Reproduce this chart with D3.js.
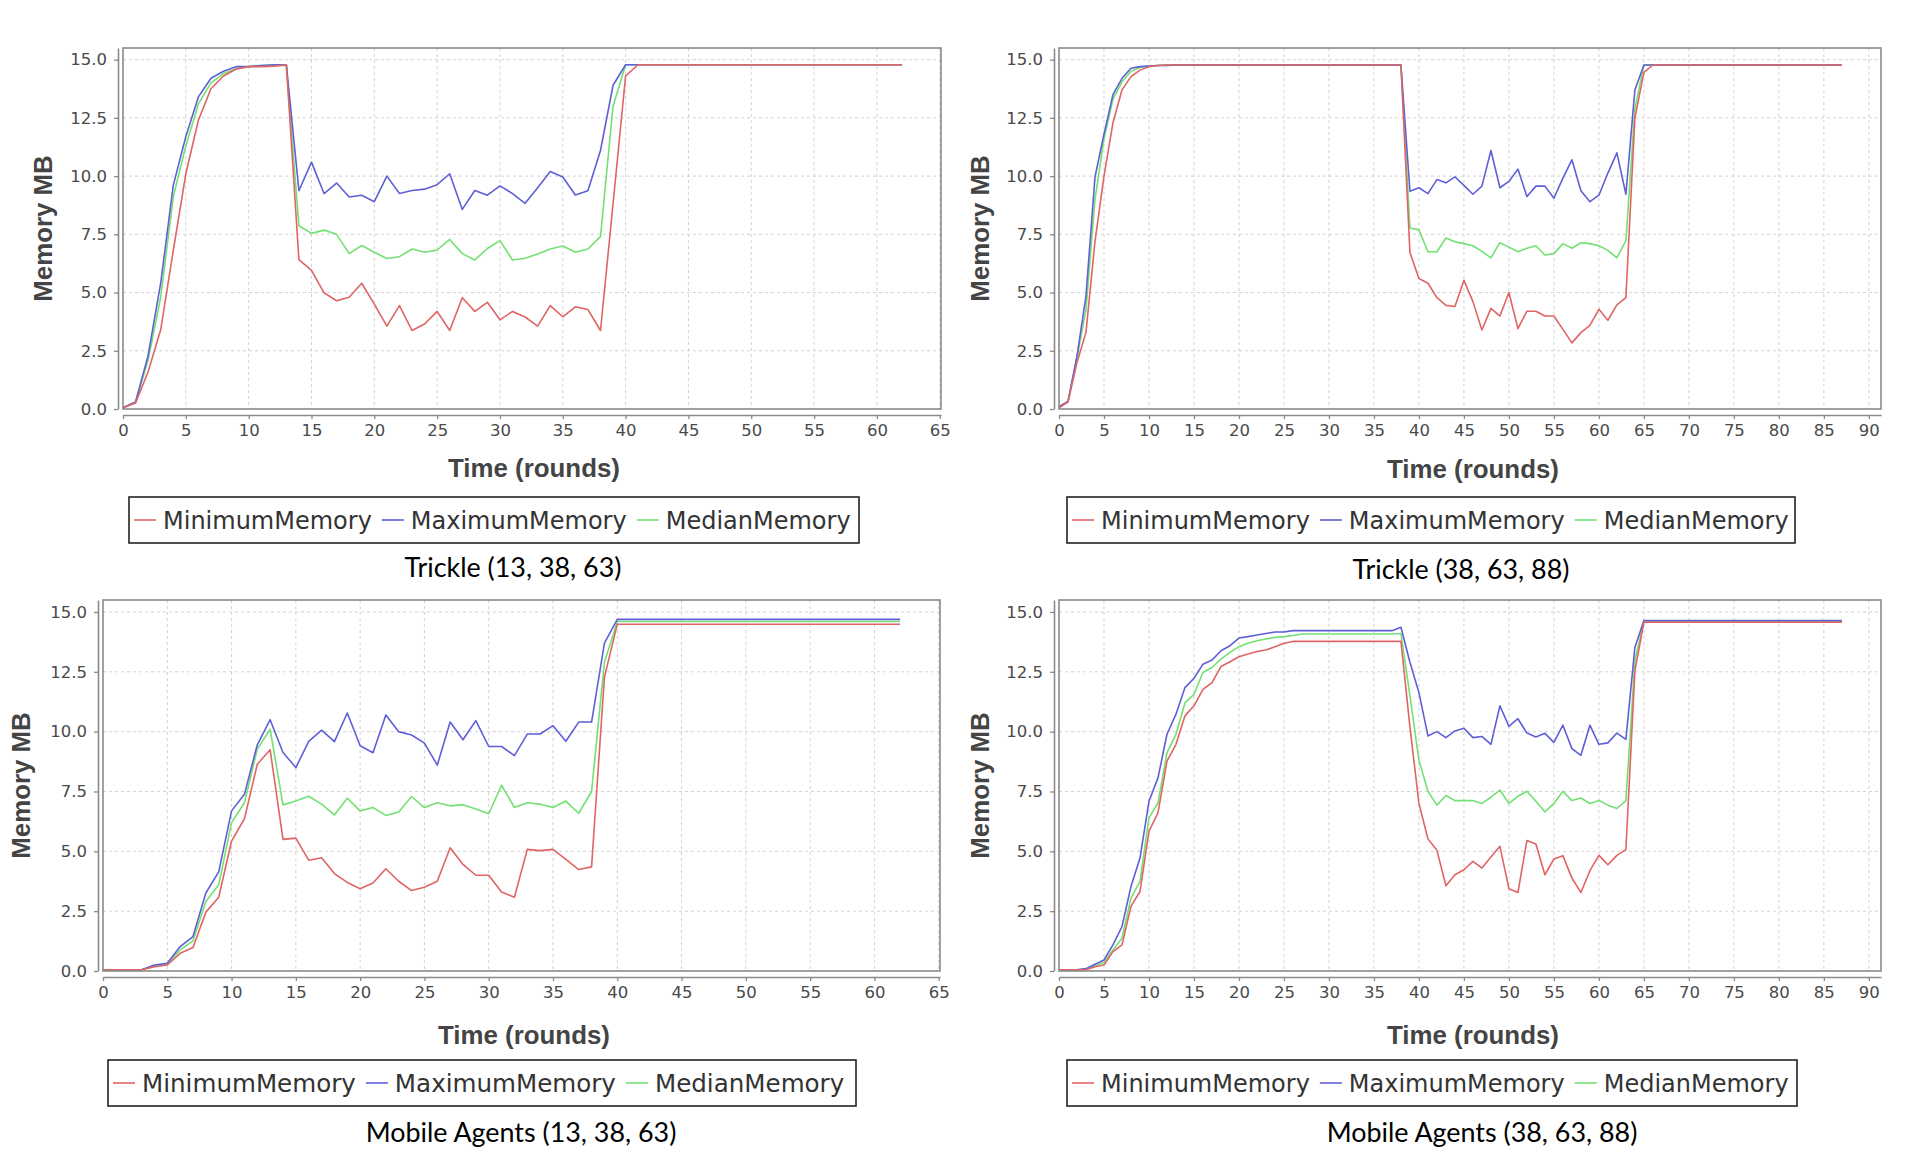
<!DOCTYPE html>
<html>
<head>
<meta charset="utf-8">
<script src="https://cdnjs.cloudflare.com/ajax/libs/d3/7.8.5/d3.min.js"></script>
<style>
  body { margin: 0; background: #fff; }
  svg { display: block; }
</style>
</head>
<body>
<svg id="chart" width="1923" height="1171"></svg>
<script>
'use strict';

// ---- data (index = round) ----
var seriesNames = ['MinimumMemory', 'MaximumMemory', 'MedianMemory'];
var yTickValues = [0, 2.5, 5, 7.5, 10, 12.5, 15];
var xTicks65 = [0, 5, 10, 15, 20, 25, 30, 35, 40, 45, 50, 55, 60, 65];
var xTicks90 = [0, 5, 10, 15, 20, 25, 30, 35, 40, 45, 50, 55, 60, 65, 70, 75, 80, 85, 90];
var captions = ['Trickle (13, 38, 63)', 'Trickle (38, 63, 88)', 'Mobile Agents (13, 38, 63)', 'Mobile Agents (38, 63, 88)'];
var axisTitleX = 'Time (rounds)';
var axisTitleY = 'Memory MB';

var trickleAMin = [0.05, 0.26, 1.6, 3.4, 6.8, 10.1, 12.4, 13.75, 14.3, 14.6, 14.7, 14.7, 14.72, 14.78,
  6.41, 5.95, 4.99, 4.65, 4.8, 5.4, 4.5, 3.56, 4.44, 3.37, 3.65, 4.19, 3.37, 4.78, 4.19, 4.58, 3.83, 4.19, 3.95, 3.56, 4.44, 3.96, 4.39, 4.27, 3.37, 8.8, 14.3,
  14.78, 14.78, 14.78, 14.78, 14.78, 14.78, 14.78, 14.78, 14.78, 14.78, 14.78, 14.78, 14.78, 14.78, 14.78, 14.78, 14.78, 14.78, 14.78, 14.78, 14.78, 14.78];
var trickleAMax = [0.05, 0.3, 2.3, 5.4, 9.6, 11.7, 13.4, 14.2, 14.5, 14.7, 14.7, 14.75, 14.78, 14.78,
  9.37, 10.6, 9.25, 9.7, 9.1, 9.18, 8.9, 10.0, 9.25, 9.38, 9.44, 9.63, 10.1, 8.57, 9.38, 9.18, 9.58, 9.25, 8.83, 9.5, 10.2, 9.96, 9.19, 9.37, 11.1, 13.9, 14.78,
  14.78, 14.78, 14.78, 14.78, 14.78, 14.78, 14.78, 14.78, 14.78, 14.78, 14.78, 14.78, 14.78, 14.78, 14.78, 14.78, 14.78, 14.78, 14.78, 14.78, 14.78, 14.78];
var trickleAMed = [0.05, 0.3, 2.1, 4.8, 9.1, 11.3, 13.1, 14.0, 14.4, 14.6, 14.7, 14.75, 14.75, 14.75,
  7.87, 7.54, 7.68, 7.5, 6.67, 7.02, 6.73, 6.46, 6.54, 6.87, 6.73, 6.82, 7.28, 6.67, 6.4, 6.89, 7.23, 6.4, 6.47, 6.66, 6.87, 7.0, 6.73, 6.87, 7.4, 13.0, 14.78,
  14.78, 14.78, 14.78, 14.78, 14.78, 14.78, 14.78, 14.78, 14.78, 14.78, 14.78, 14.78, 14.78, 14.78, 14.78, 14.78, 14.78, 14.78, 14.78, 14.78, 14.78, 14.78];

var trickleBMin = [0.05, 0.3, 2.0, 3.3, 7.2, 10.0, 12.3, 13.7, 14.27, 14.55, 14.7, 14.75, 14.77, 14.77,
  14.77, 14.77, 14.77, 14.77, 14.77, 14.77, 14.77, 14.77, 14.77, 14.77, 14.77, 14.77, 14.77, 14.77, 14.77, 14.77, 14.77, 14.77, 14.77, 14.77, 14.77, 14.77, 14.77, 14.77, 14.77,
  6.72, 5.6, 5.4, 4.78, 4.45, 4.4, 5.53, 4.61, 3.39, 4.32, 3.99, 5.0, 3.45, 4.2, 4.2, 3.99, 3.99, 3.42, 2.84, 3.28, 3.59, 4.28, 3.81, 4.47, 4.78, 12.5, 14.45,
  14.77, 14.77, 14.77, 14.77, 14.77, 14.77, 14.77, 14.77, 14.77, 14.77, 14.77, 14.77, 14.77, 14.77, 14.77, 14.77, 14.77, 14.77, 14.77, 14.77, 14.77, 14.77];
var trickleBMax = [0.1, 0.33, 2.27, 4.86, 9.96, 11.8, 13.5, 14.2, 14.63, 14.7, 14.73, 14.75, 14.75, 14.77,
  14.77, 14.77, 14.77, 14.77, 14.77, 14.77, 14.77, 14.77, 14.77, 14.77, 14.77, 14.77, 14.77, 14.77, 14.77, 14.77, 14.77, 14.77, 14.77, 14.77, 14.77, 14.77, 14.77, 14.77, 14.77,
  9.35, 9.5, 9.25, 9.85, 9.71, 9.97, 9.6, 9.22, 9.57, 11.1, 9.5, 9.77, 10.3, 9.12, 9.57, 9.57, 9.05, 9.91, 10.7, 9.37, 8.9, 9.18, 10.13, 11.0, 9.22, 13.7, 14.77,
  14.77, 14.77, 14.77, 14.77, 14.77, 14.77, 14.77, 14.77, 14.77, 14.77, 14.77, 14.77, 14.77, 14.77, 14.77, 14.77, 14.77, 14.77, 14.77, 14.77, 14.77, 14.77];
var trickleBMed = [0.1, 0.33, 2.2, 4.28, 9.0, 11.6, 13.3, 14.05, 14.5, 14.66, 14.73, 14.75, 14.77, 14.77,
  14.77, 14.77, 14.77, 14.77, 14.77, 14.77, 14.77, 14.77, 14.77, 14.77, 14.77, 14.77, 14.77, 14.77, 14.77, 14.77, 14.77, 14.77, 14.77, 14.77, 14.77, 14.77, 14.77, 14.77, 14.77,
  7.77, 7.69, 6.75, 6.75, 7.34, 7.18, 7.1, 7.01, 6.77, 6.49, 7.14, 6.95, 6.75, 6.9, 7.01, 6.61, 6.67, 7.1, 6.9, 7.14, 7.1, 7.01, 6.81, 6.49, 7.23, 12.9, 14.77,
  14.77, 14.77, 14.77, 14.77, 14.77, 14.77, 14.77, 14.77, 14.77, 14.77, 14.77, 14.77, 14.77, 14.77, 14.77, 14.77, 14.77, 14.77, 14.77, 14.77, 14.77, 14.77];

var agentsAMin = [0.05, 0.05, 0.05, 0.05, 0.18, 0.25, 0.74, 0.98, 2.46, 3.08, 5.43, 6.36, 8.64, 9.24,
  5.5, 5.55, 4.63, 4.73, 4.07, 3.7, 3.44, 3.68, 4.27, 3.75, 3.36, 3.5, 3.75, 5.15, 4.45, 4.0, 4.0, 3.3, 3.08, 5.08, 5.03, 5.08, 4.66, 4.24, 4.35, 12.28, 14.49,
  14.49, 14.49, 14.49, 14.49, 14.49, 14.49, 14.49, 14.49, 14.49, 14.49, 14.49, 14.49, 14.49, 14.49, 14.49, 14.49, 14.49, 14.49, 14.49, 14.49, 14.49, 14.49];
var agentsAMax = [0.05, 0.05, 0.05, 0.05, 0.25, 0.32, 1.02, 1.44, 3.26, 4.14, 6.69, 7.38, 9.45, 10.5,
  9.13, 8.5, 9.59, 10.06, 9.58, 10.78, 9.41, 9.12, 10.7, 10.0, 9.86, 9.52, 8.6, 10.4, 9.66, 10.46, 9.38, 9.38, 9.0, 9.9, 9.9, 10.25, 9.6, 10.4, 10.4, 13.7, 14.69,
  14.69, 14.69, 14.69, 14.69, 14.69, 14.69, 14.69, 14.69, 14.69, 14.69, 14.69, 14.69, 14.69, 14.69, 14.69, 14.69, 14.69, 14.69, 14.69, 14.69, 14.69, 14.69];
var agentsAMed = [0.05, 0.05, 0.05, 0.05, 0.2, 0.3, 0.88, 1.26, 2.9, 3.6, 6.2, 7.03, 9.27, 10.1,
  6.94, 7.1, 7.3, 6.97, 6.52, 7.22, 6.69, 6.83, 6.5, 6.64, 7.29, 6.83, 7.03, 6.9, 6.95, 6.77, 6.57, 7.76, 6.83, 7.03, 6.97, 6.83, 7.1, 6.59, 7.5, 12.9, 14.6,
  14.6, 14.6, 14.6, 14.6, 14.6, 14.6, 14.6, 14.6, 14.6, 14.6, 14.6, 14.6, 14.6, 14.6, 14.6, 14.6, 14.6, 14.6, 14.6, 14.6, 14.6, 14.6];

var agentsBMin = [0.05, 0.05, 0.05, 0.05, 0.18, 0.25, 0.81, 1.09, 2.7, 3.32, 5.84, 6.61, 8.77, 9.47, 10.66, 11.08, 11.77, 12.05, 12.72, 12.92,
  13.13, 13.24, 13.35, 13.41, 13.55, 13.69, 13.77, 13.77, 13.77, 13.77, 13.77, 13.77, 13.77, 13.77, 13.77, 13.77, 13.77, 13.77, 13.77, 10.2, 7.0,
  5.52, 5.04, 3.56, 4.02, 4.23, 4.58, 4.3, 4.76, 5.21, 3.44, 3.28, 5.45, 5.31, 4.02, 4.68, 4.82, 3.88, 3.28, 4.19, 4.83, 4.44, 4.83, 5.07, 12.54, 14.57,
  14.57, 14.57, 14.57, 14.57, 14.57, 14.57, 14.57, 14.57, 14.57, 14.57, 14.57, 14.57, 14.57, 14.57, 14.57, 14.57, 14.57, 14.57, 14.57, 14.57, 14.57, 14.57];
var agentsBMax = [0.05, 0.05, 0.05, 0.1, 0.28, 0.46, 1.09, 1.86, 3.53, 4.72, 7.09, 8.07, 9.89, 10.73, 11.84, 12.23, 12.82, 12.99, 13.38, 13.59,
  13.91, 13.97, 14.04, 14.1, 14.16, 14.16, 14.22, 14.22, 14.22, 14.22, 14.22, 14.22, 14.22, 14.22, 14.22, 14.22, 14.22, 14.22, 14.36, 12.9, 11.63,
  9.82, 10.0, 9.75, 10.03, 10.14, 9.75, 9.8, 9.47, 11.08, 10.22, 10.54, 9.94, 9.78, 9.93, 9.55, 10.27, 9.29, 9.01, 10.27, 9.47, 9.53, 9.94, 9.68, 13.52, 14.64,
  14.64, 14.64, 14.64, 14.64, 14.64, 14.64, 14.64, 14.64, 14.64, 14.64, 14.64, 14.64, 14.64, 14.64, 14.64, 14.64, 14.64, 14.64, 14.64, 14.64, 14.64, 14.64];
var agentsBMed = [0.05, 0.05, 0.05, 0.08, 0.22, 0.36, 0.88, 1.37, 3.04, 3.74, 6.4, 7.02, 9.12, 9.89, 11.2, 11.56, 12.47, 12.68, 13.03, 13.31,
  13.55, 13.69, 13.8, 13.87, 13.94, 13.97, 14.02, 14.08, 14.08, 14.08, 14.08, 14.08, 14.08, 14.08, 14.08, 14.08, 14.08, 14.08, 14.1, 11.5, 8.8,
  7.51, 6.93, 7.33, 7.12, 7.12, 7.12, 7.0, 7.26, 7.56, 7.0, 7.3, 7.51, 7.09, 6.65, 7.0, 7.51, 7.12, 7.23, 7.0, 7.12, 6.93, 6.79, 7.12, 12.96, 14.6,
  14.6, 14.6, 14.6, 14.6, 14.6, 14.6, 14.6, 14.6, 14.6, 14.6, 14.6, 14.6, 14.6, 14.6, 14.6, 14.6, 14.6, 14.6, 14.6, 14.6, 14.6, 14.6];

// ---- look ----
var lineColors = ['#e06464', '#5f5fd8', '#74e074'];
var tickFont = 'DejaVu Sans, Verdana, sans-serif';
var titleFont = 'Liberation Sans, Arial, sans-serif';
var legendFont = 'DejaVu Sans, Verdana, sans-serif';
var captionFont = 'Lato, Open Sans, sans-serif';

var panels = [
  { series: [trickleAMin, trickleAMax, trickleAMed], xMax: 65.1, xTicks: xTicks65, caption: captions[0],
    left: 123, right: 941, top: 48, bottom: 409, yTitleX: 43, xTitleX: 534, xTitleY: 477,
    legend: [129, 859, 497, 543], legendW: 209, capX: 513, capY: 577 },
  { series: [trickleBMin, trickleBMax, trickleBMed], xMax: 91.35, xTicks: xTicks90, caption: captions[1],
    left: 1059, right: 1881, top: 48, bottom: 409, yTitleX: 980, xTitleX: 1473, xTitleY: 478,
    legend: [1067, 1795, 497, 543], legendW: 209, capX: 1461, capY: 579 },
  { series: [agentsAMin, agentsAMax, agentsAMed], xMax: 65.1, xTicks: xTicks65, caption: captions[2],
    left: 103, right: 940, top: 600, bottom: 971, yTitleX: 21, xTitleX: 524, xTitleY: 1044,
    legend: [108, 856, 1060, 1106], legendW: 214, capX: 521, capY: 1142 },
  { series: [agentsBMin, agentsBMax, agentsBMed], xMax: 91.35, xTicks: xTicks90, caption: captions[3],
    left: 1059, right: 1881, top: 600, bottom: 971, yTitleX: 980, xTitleX: 1473, xTitleY: 1044,
    legend: [1067, 1797, 1060, 1106], legendW: 209, capX: 1482, capY: 1142 }
];

var svg = d3.select('#chart');

// font size that makes a string a given width
function fitSize(text, family, weight, width) {
  var t = svg.append('text').attr('font-family', family).attr('font-weight', weight)
    .attr('font-size', 100).text(text);
  var l = t.node().getComputedTextLength();
  t.remove();
  return 100 * width / l;
}

var titleSize = fitSize(axisTitleX, titleFont, 'bold', 172);
var captionSize = fitSize(captions[0], captionFont, 'normal', 217);

panels.forEach(function(p) {
  var g = svg.append('g');
  var x = d3.scaleLinear().domain([0, p.xMax]).range([p.left, p.right]);
  var y = d3.scaleLinear().domain([0, 15.5]).range([p.bottom, p.top]);

  // grid
  g.append('g').selectAll('line').data(p.xTicks.filter(function(d) { return d > 0; })).enter()
    .append('line')
    .attr('x1', function(d) { return x(d); }).attr('x2', function(d) { return x(d); })
    .attr('y1', p.top).attr('y2', p.bottom)
    .attr('stroke', '#d2d2d2').attr('stroke-width', 1).attr('stroke-dasharray', '3,3');
  g.append('g').selectAll('line').data(yTickValues.filter(function(d) { return d > 0; })).enter()
    .append('line')
    .attr('x1', p.left).attr('x2', p.right)
    .attr('y1', function(d) { return y(d); }).attr('y2', function(d) { return y(d); })
    .attr('stroke', '#d2d2d2').attr('stroke-width', 1).attr('stroke-dasharray', '3,3');

  // series, min drawn last so it sits on top
  var line = d3.line()
    .x(function(d, i) { return x(i); })
    .y(function(d) { return y(d); });
  [2, 1, 0].forEach(function(s) {
    g.append('path').datum(p.series[s])
      .attr('d', line)
      .attr('fill', 'none')
      .attr('stroke', lineColors[s])
      .attr('stroke-width', 1.6)
      .attr('stroke-linejoin', 'round');
  });

  // plot outline
  g.append('rect').attr('x', p.left).attr('y', p.top)
    .attr('width', p.right - p.left).attr('height', p.bottom - p.top)
    .attr('fill', 'none').attr('stroke', '#8a8a8a').attr('stroke-width', 1.6);

  // axes, offset from the plot like JFreeChart
  var yAxis = d3.axisLeft(y).tickValues(yTickValues).tickFormat(d3.format('.1f'))
    .tickSizeInner(4).tickSizeOuter(0).tickPadding(7);
  var yg = g.append('g').attr('transform', 'translate(' + (p.left - 5) + ',0)').call(yAxis);
  var xAxis = d3.axisBottom(x).tickValues(p.xTicks).tickFormat(d3.format('d'))
    .tickSizeInner(4).tickSizeOuter(0).tickPadding(5);
  var xg = g.append('g').attr('transform', 'translate(0,' + (p.bottom + 6) + ')').call(xAxis);
  [yg, xg].forEach(function(a) {
    a.select('.domain').attr('stroke', '#8a8a8a').attr('stroke-width', 1.6);
    a.selectAll('.tick line').attr('stroke', '#8a8a8a').attr('stroke-width', 1.3);
    a.selectAll('.tick text').attr('fill', '#4a4a4a').attr('font-family', tickFont).attr('font-size', 16.5);
  });

  // axis titles
  g.append('text').attr('x', p.xTitleX).attr('y', p.xTitleY).attr('text-anchor', 'middle')
    .attr('font-family', titleFont).attr('font-weight', 'bold').attr('font-size', titleSize)
    .attr('fill', '#444').text(axisTitleX);
  var ym = (p.top + p.bottom) / 2;
  g.append('text').attr('transform', 'translate(' + p.yTitleX + ',' + ym + ') rotate(-90)')
    .attr('text-anchor', 'middle').attr('dy', '0.35em')
    .attr('font-family', titleFont).attr('font-weight', 'bold').attr('font-size', titleSize)
    .attr('fill', '#444').text(axisTitleY);

  // legend
  var lb = p.legend;
  g.append('rect').attr('x', lb[0]).attr('y', lb[2]).attr('width', lb[1] - lb[0]).attr('height', lb[3] - lb[2])
    .attr('fill', '#fff').attr('stroke', '#222').attr('stroke-width', 1.6);
  var lsize = fitSize(seriesNames[0], legendFont, 'normal', p.legendW);
  var lx = lb[0] + 5;
  var lyc = (lb[2] + lb[3]) / 2;
  seriesNames.forEach(function(name, s) {
    g.append('line').attr('x1', lx).attr('x2', lx + 22).attr('y1', lyc).attr('y2', lyc)
      .attr('stroke', lineColors[s]).attr('stroke-width', 1.6);
    var t = g.append('text').attr('x', lx + 29).attr('y', lyc).attr('dy', '0.36em')
      .attr('font-family', legendFont).attr('font-size', lsize).attr('fill', '#333').text(name);
    lx += 29 + t.node().getComputedTextLength() + 10;
  });

  // caption
  g.append('text').attr('x', p.capX).attr('y', p.capY).attr('text-anchor', 'middle')
    .attr('font-family', captionFont).attr('font-size', captionSize).attr('fill', '#000')
    .text(p.caption);
});
</script>
</body>
</html>
